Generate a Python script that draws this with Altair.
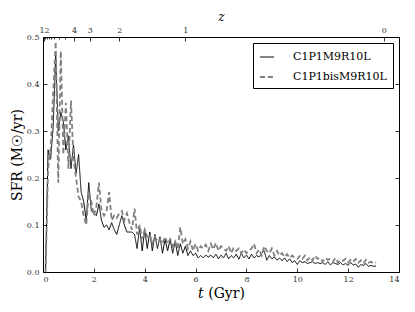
import altair as alt
import pandas as pd

# time grid (Gyr), one sample every 0.1 Gyr
t_gyr = [round(0.1 * i, 1) for i in range(1, 132)]

sfr_c1p1 = [
    0.00, 0.26, 0.24, 0.31, 0.46, 0.30, 0.34, 0.32, 0.26, 0.29,
    0.22, 0.27, 0.21, 0.25, 0.17, 0.15, 0.11, 0.19, 0.13, 0.125,
    0.12, 0.145, 0.11, 0.095, 0.10, 0.09, 0.105, 0.09, 0.08, 0.10,
    0.12, 0.10, 0.085, 0.085, 0.085, 0.08, 0.05, 0.095, 0.045, 0.09,
    0.05, 0.085, 0.045, 0.08, 0.05, 0.075, 0.04, 0.07, 0.045, 0.07,
    0.04, 0.065, 0.035, 0.06, 0.04, 0.055, 0.035, 0.045, 0.035, 0.04,
    0.03, 0.035, 0.03, 0.036, 0.032, 0.036, 0.03, 0.038, 0.028, 0.036,
    0.03, 0.04, 0.028, 0.035, 0.03, 0.038, 0.027, 0.04, 0.03, 0.036,
    0.028, 0.038, 0.03, 0.035, 0.032, 0.04, 0.045, 0.025, 0.035, 0.028,
    0.032, 0.025, 0.03, 0.024, 0.03, 0.022, 0.028, 0.02, 0.024, 0.016,
    0.024, 0.02, 0.022, 0.018, 0.02, 0.022, 0.018, 0.02, 0.018, 0.02,
    0.016, 0.022, 0.015, 0.02, 0.018, 0.016, 0.02, 0.015, 0.018, 0.014,
    0.02, 0.015, 0.017, 0.01, 0.016, 0.014, 0.018, 0.012, 0.014, 0.012,
    0.013,
]

sfr_c1p1bis = [
    0.00, 0.22, 0.26, 0.38, 0.49, 0.19, 0.47, 0.25, 0.36, 0.22,
    0.365, 0.24, 0.20, 0.16, 0.15, 0.12, 0.10, 0.17, 0.15, 0.12,
    0.14, 0.19, 0.13, 0.12, 0.13, 0.17, 0.11, 0.12, 0.115, 0.125,
    0.13, 0.11, 0.125, 0.105, 0.09, 0.135, 0.08, 0.10, 0.07, 0.09,
    0.075, 0.08, 0.06, 0.075, 0.065, 0.07, 0.06, 0.075, 0.06, 0.07,
    0.055, 0.065, 0.05, 0.095, 0.06, 0.07, 0.05, 0.065, 0.045, 0.06,
    0.045, 0.055, 0.05, 0.058, 0.045, 0.06, 0.048, 0.062, 0.045, 0.055,
    0.05, 0.045, 0.055, 0.04, 0.052, 0.045, 0.05, 0.04, 0.048, 0.04,
    0.045, 0.05, 0.06, 0.04, 0.048, 0.035, 0.055, 0.045, 0.04, 0.05,
    0.035, 0.045, 0.035, 0.04, 0.032, 0.038, 0.03, 0.035, 0.03, 0.028,
    0.034, 0.028, 0.035, 0.025, 0.032, 0.025, 0.035, 0.028, 0.03, 0.022,
    0.03, 0.026, 0.028, 0.022, 0.03, 0.02, 0.026, 0.024, 0.028, 0.02,
    0.026, 0.022, 0.028, 0.02, 0.025, 0.018, 0.026, 0.02, 0.022, 0.018,
    0.02,
]

series_names = ["C1P1M9R10L", "C1P1bisM9R10L"]
series_colors = ["black", "#808080"]

x_ticks = [0, 2, 4, 6, 8, 10, 12, 14]
y_ticks = [0.0, 0.1, 0.2, 0.3, 0.4, 0.5]

# redshift axis (top): labelled ticks and minor ticks, placed at cosmic time t
z_labels = ["12", "4", "3", "2", "1", "0"]
z_t = [0.04, 1.22, 1.84, 3.0, 5.6, 13.4]
z_minor_t = [0.09, 0.15, 0.22, 0.32, 0.44, 0.61, 0.85]

df = pd.DataFrame({
    "t": t_gyr * 2,
    "sfr": sfr_c1p1 + sfr_c1p1bis,
    "series": [series_names[0]] * len(t_gyr) + [series_names[1]] * len(t_gyr),
})

xscale = alt.Scale(domain=[0, 14], nice=False, zero=False)
yscale = alt.Scale(domain=[0, 0.5], nice=False)

FONT = "DejaVu Serif"

z_expr = " : ".join(
    f"abs(datum.value - {tv}) < 0.01 ? '{lab}'" for tv, lab in zip(z_t, z_labels)
) + " : ''"

lines = alt.Chart(df).mark_line(clip=True).encode(
    x=alt.X("t:Q", scale=xscale, axis=alt.Axis(
        orient="bottom", values=x_ticks, format="d", title="𝑡 (Gyr)",
        offset=-4, tickSize=4, domain=False, grid=False, labelPadding=3,
        titlePadding=3)),
    y=alt.Y("sfr:Q", scale=yscale, axis=alt.Axis(
        orient="left", values=y_ticks, format=".1f", title="SFR (M☉/yr)",
        offset=-4, tickSize=4, domain=False, grid=False, labelPadding=4,
        titlePadding=2)),
    color=alt.Color("series:N", scale=alt.Scale(domain=series_names, range=series_colors),
                    legend=alt.Legend(title=None)),
    strokeDash=alt.StrokeDash("series:N", scale=alt.Scale(domain=series_names, range=[[1, 0], [5, 3]]),
                              legend=alt.Legend(title=None)),
    strokeWidth=alt.StrokeWidth("series:N", scale=alt.Scale(domain=series_names, range=[1.0, 1.8]),
                                legend=None),
)

top_right = alt.Chart(df).mark_line(opacity=0).encode(
    x=alt.X("t:Q", scale=xscale, axis=alt.Axis(
        orient="top", values=z_t, labelExpr=z_expr, title="z",
        titleFontStyle="italic", titleFontSize=12, titlePadding=3,
        offset=-4, tickSize=4, domain=False, grid=False, labelPadding=3)),
    y=alt.Y("sfr:Q", scale=yscale, axis=alt.Axis(
        orient="right", values=y_ticks, labels=False, title=None,
        offset=-4, tickSize=4, domain=False, grid=False)),
)

minor = alt.Chart(df).mark_line(opacity=0).encode(
    x=alt.X("t:Q", scale=xscale, axis=alt.Axis(
        orient="top", values=z_minor_t, labels=False, title=None,
        offset=-2, tickSize=2, domain=False, grid=False)),
    y=alt.Y("sfr:Q", scale=yscale, axis=None),
)

chart = alt.layer(lines, top_right, minor).resolve_axis(
    x="independent", y="independent"
).properties(
    width=356, height=235,
    autosize=alt.AutoSizeParams(type="none"),
    padding={"left": 35, "top": 29, "right": 8, "bottom": 33},
).configure_view(
    stroke="black", strokeWidth=1
).configure_axis(
    labelFont=FONT, labelFontSize=8, labelColor="#333",
    tickColor="black", tickWidth=0.8,
    titleFont=FONT, titleFontSize=14, titleFontWeight="normal", titleColor="black",
).configure_legend(
    orient="top-right", offset=6, strokeColor="black", fillColor="white",
    padding=6, cornerRadius=0, labelFont=FONT, labelFontSize=11,
    labelColor="black", symbolType="stroke", symbolSize=200, symbolStrokeWidth=1.3,
    labelOffset=18, rowPadding=7,
)

chart.save("out.html", embed_options={"renderer": "svg", "actions": False})
